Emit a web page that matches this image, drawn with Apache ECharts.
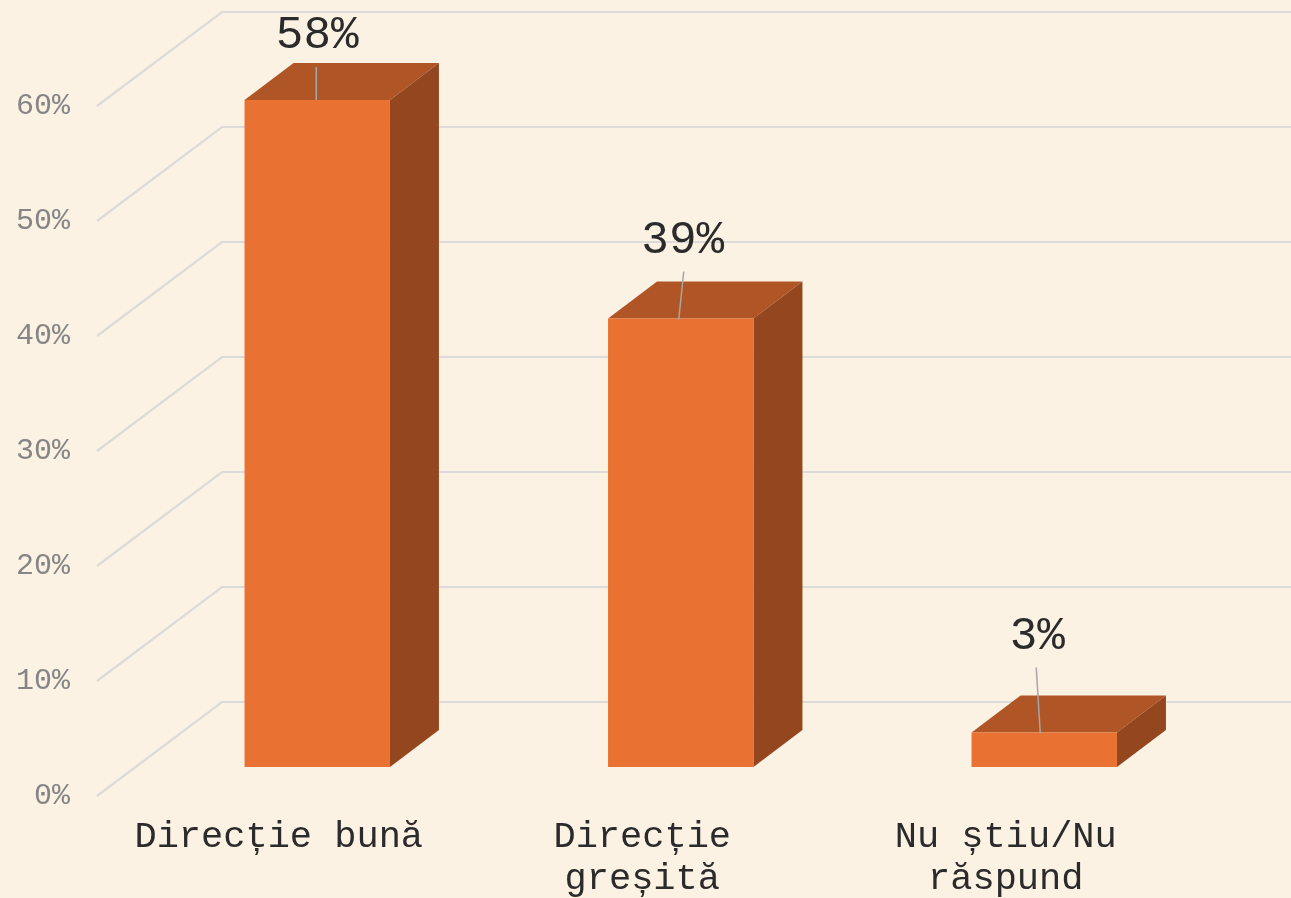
<!DOCTYPE html>
<html>
<head>
<meta charset="utf-8">
<title>Directie</title>
<script src="https://cdn.jsdelivr.net/npm/echarts@6/dist/echarts.min.js"></script>
<style>
html,body{margin:0;padding:0;background:#fcf2e4;}
#main{width:1291px;height:898px;}
</style>
</head>
<body>
<div id="main"></div>
<script>
var categories = ['Direcție bună', 'Direcție\ngreșită', 'Nu știu/Nu\nrăspund'];
var values = [58, 39, 3];
var tickValues = [0, 10, 20, 30, 40, 50, 60];

// label / leader line offsets from the middle of the bar's top edge
var labelOffset = [[0, -64], [2, -78], [-7, -96]];
var leaderStart = [[-1, -33], [3, -47], [-8, -65]];
var leaderEnd = [[-1, 0], [-2, 1], [-4, 1]];

var MONO = '"Liberation Mono", monospace';
var WALL_DX = 125, WALL_DY = 94;   // front edge to back wall
var FLOOR_DX = 38.5, FLOOR_DY = 29; // front edge to bar front
var DEPTH_DX = 49, DEPTH_DY = 37;  // bar depth

var myChart = echarts.init(document.getElementById('main'));

function renderWall(params, api) {
    var p = api.coord([0, api.value(0)]);
    var x = params.coordSys.x, y = p[1];
    return {
        type: 'polyline',
        silent: true,
        shape: {points: [[x, y], [x + WALL_DX, y - WALL_DY], [1291, y - WALL_DY]]},
        style: {fill: 'none', stroke: '#dddbd9', lineWidth: 2.2}
    };
}

function renderBar(params, api) {
    var i = api.value(0);
    var top = api.coord([i, api.value(1)]);
    var base = api.coord([i, 0]);
    var w = api.size([1, 0])[0] * 0.4;
    var x0 = top[0] + FLOOR_DX - w / 2, x1 = x0 + w;
    var y0 = top[1] - FLOOR_DY, y1 = base[1] - FLOOR_DY;
    return {
        type: 'group',
        children: [
            {type: 'polygon', shape: {points: [[x0, y0], [x1, y0], [x1 + DEPTH_DX, y0 - DEPTH_DY], [x0 + DEPTH_DX, y0 - DEPTH_DY]]}, style: {fill: '#b05626'}},
            {type: 'polygon', shape: {points: [[x1, y0], [x1 + DEPTH_DX, y0 - DEPTH_DY], [x1 + DEPTH_DX, y1 - DEPTH_DY], [x1, y1]]}, style: {fill: '#94471f'}},
            {type: 'rect', shape: {x: x0, y: y0, width: w, height: y1 - y0}, style: {fill: '#e97132'}}
        ]
    };
}

function renderLabel(params, api) {
    var i = api.value(0);
    var top = api.coord([i, api.value(1)]);
    var cx = top[0] + FLOOR_DX, cy = top[1] - FLOOR_DY;
    return {
        type: 'group',
        children: [
            {type: 'line', shape: {x1: cx + leaderStart[i][0], y1: cy + leaderStart[i][1], x2: cx + leaderEnd[i][0], y2: cy + leaderEnd[i][1]},
                style: {stroke: '#a6a6a6', lineWidth: 1.5}},
            {type: 'text', style: {x: cx + labelOffset[i][0], y: cy + labelOffset[i][1], text: api.value(1) + '%',
                font: '46px ' + MONO, fill: '#2b2b2b', textAlign: 'center', textVerticalAlign: 'middle'}}
        ]
    };
}

var option = {
    backgroundColor: '#fcf2e4',
    animation: false,
    grid: {left: 97, right: 103.5, top: 106, height: 690, outerBoundsMode: 'none'},
    xAxis: {
        type: 'category',
        data: categories,
        axisLine: {show: false},
        axisTick: {show: false},
        axisLabel: {interval: 0, margin: 20, color: '#2b2b2b', fontFamily: MONO, fontSize: 37, lineHeight: 42}
    },
    yAxis: {
        type: 'value',
        min: 0,
        max: 60,
        interval: 10,
        axisLine: {show: false},
        axisTick: {show: false},
        splitLine: {show: false},
        axisLabel: {margin: 27, color: '#858585', fontFamily: MONO, fontSize: 30, formatter: '{value}%'}
    },
    series: [
        {type: 'custom', clip: false, z: 1, renderItem: renderWall, encode: {y: 0},
            data: tickValues.map(function (v) { return [v]; })},
        {type: 'custom', clip: false, z: 2, renderItem: renderBar,
            data: values.map(function (v, i) { return [i, v]; })},
        {type: 'custom', clip: false, z: 3, renderItem: renderLabel,
            data: values.map(function (v, i) { return [i, v]; })}
    ]
};
myChart.setOption(option);
</script>
</body>
</html>
